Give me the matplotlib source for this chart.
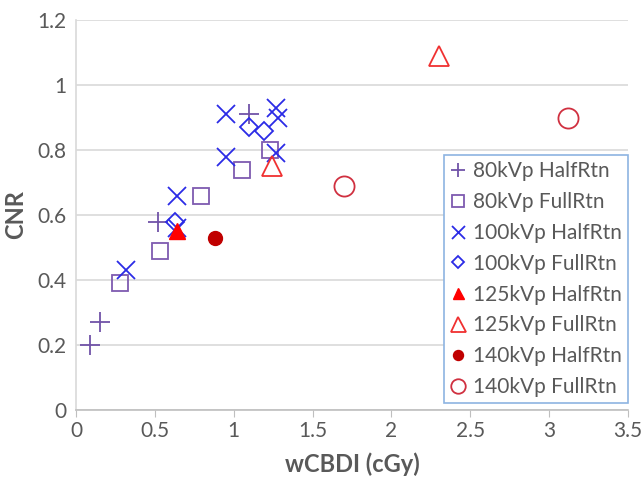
import matplotlib
matplotlib.use("Agg")
import matplotlib.pyplot as plt
from matplotlib.ticker import FuncFormatter

plt.rcParams['font.family'] = ['Lato', 'DejaVu Sans']

# -------------------------------
# Data
# -------------------------------
x80_half = [0.09, 0.15, 0.52, 1.10]
y80_half = [0.20, 0.27, 0.58, 0.91]

x80_full = [0.28, 0.53, 0.79, 1.05, 1.23]
y80_full = [0.39, 0.49, 0.66, 0.74, 0.80]

x100_half = [0.32, 0.64, 0.64, 0.95, 0.95, 1.27, 1.28, 1.27]
y100_half = [0.43, 0.56, 0.66, 0.91, 0.78, 0.93, 0.90, 0.79]

x100_full = [0.63, 1.10, 1.19]
y100_full = [0.58, 0.87, 0.86]

x125_half = [0.64]
y125_half = [0.55]

x125_full = [1.24, 2.30]
y125_full = [0.75, 1.09]

x140_half = [0.88]
y140_half = [0.53]

x140_full = [1.70, 3.12]
y140_full = [0.69, 0.90]

xticks = [0, 0.5, 1, 1.5, 2, 2.5, 3, 3.5]
yticks = [0, 0.2, 0.4, 0.6, 0.8, 1, 1.2]

# -------------------------------
# Plot
# -------------------------------
fig = plt.figure(figsize=(6.44, 4.79), dpi=100)
ax = fig.add_axes([76/644, 1 - 410/479, 552/644, 390/479])

ax.plot(x80_half, y80_half, ls='none', marker='+', ms=14, mew=1.3,
        color='#7153A8', label='80kVp HalfRtn')
ax.plot(x80_full, y80_full, ls='none', marker='s', ms=12, mew=1.3,
        mfc='none', mec='#7E5AB0', label='80kVp FullRtn')
ax.plot(x100_half, y100_half, ls='none', marker='x', ms=13, mew=1.3,
        color='#2B2BE6', label='100kVp HalfRtn')
ax.plot(x100_full, y100_full, ls='none', marker='D', ms=9, mew=1.3,
        mfc='none', mec='#2B2BE6', label='100kVp FullRtn')
ax.plot(x125_half, y125_half, ls='none', marker='^', ms=11,
        color='#FF0000', label='125kVp HalfRtn')
ax.plot(x125_full, y125_full, ls='none', marker='^', ms=15, mew=1.3,
        mfc='none', mec='#F03030', label='125kVp FullRtn')
ax.plot(x140_half, y140_half, ls='none', marker='o', ms=10,
        color='#C00000', label='140kVp HalfRtn')
ax.plot(x140_full, y140_full, ls='none', marker='o', ms=14.5, mew=1.3,
        mfc='none', mec='#D03040', label='140kVp FullRtn')

ax.set_xlim(0, 3.5)
ax.set_ylim(0, 1.2)
ax.set_xticks(xticks)
ax.set_yticks(yticks)
fmt = FuncFormatter(lambda v, p: '%g' % v)
ax.xaxis.set_major_formatter(fmt)
ax.yaxis.set_major_formatter(fmt)

ax.grid(axis='y', color='#D9D9D9', lw=1.2)
ax.set_axisbelow(True)
for s in ['top', 'right']:
    ax.spines[s].set_visible(False)
ax.spines['left'].set_color('#D9D9D9')
ax.spines['bottom'].set_color('#BFBFBF')
ax.spines['left'].set_linewidth(1.2)
ax.spines['bottom'].set_linewidth(1.2)

ax.tick_params(axis='y', length=0, pad=7, labelsize=15, labelcolor='#595959')
ax.tick_params(axis='x', length=5, color='#BFBFBF', pad=3, labelsize=15,
               labelcolor='#595959')

ax.set_xlabel('wCBDI (cGy)', fontsize=17, fontweight='bold', color='#595959',
              labelpad=8)
ax.set_ylabel('CNR', fontsize=17, fontweight='bold', color='#595959',
              labelpad=7)

leg = ax.legend(loc='upper right', bbox_to_anchor=(1.0, (410 - 155) / 390),
                borderaxespad=0, fontsize=15, markerscale=0.72,
                labelspacing=0.52, handlelength=0.8, handletextpad=0.3,
                borderpad=0.3, fancybox=False, framealpha=1)
leg.get_frame().set_edgecolor('#8DB4E2')
leg.get_frame().set_linewidth(1.2)
for t in leg.get_texts():
    t.set_color('#595959')

fig.savefig('out.png', dpi=100)
